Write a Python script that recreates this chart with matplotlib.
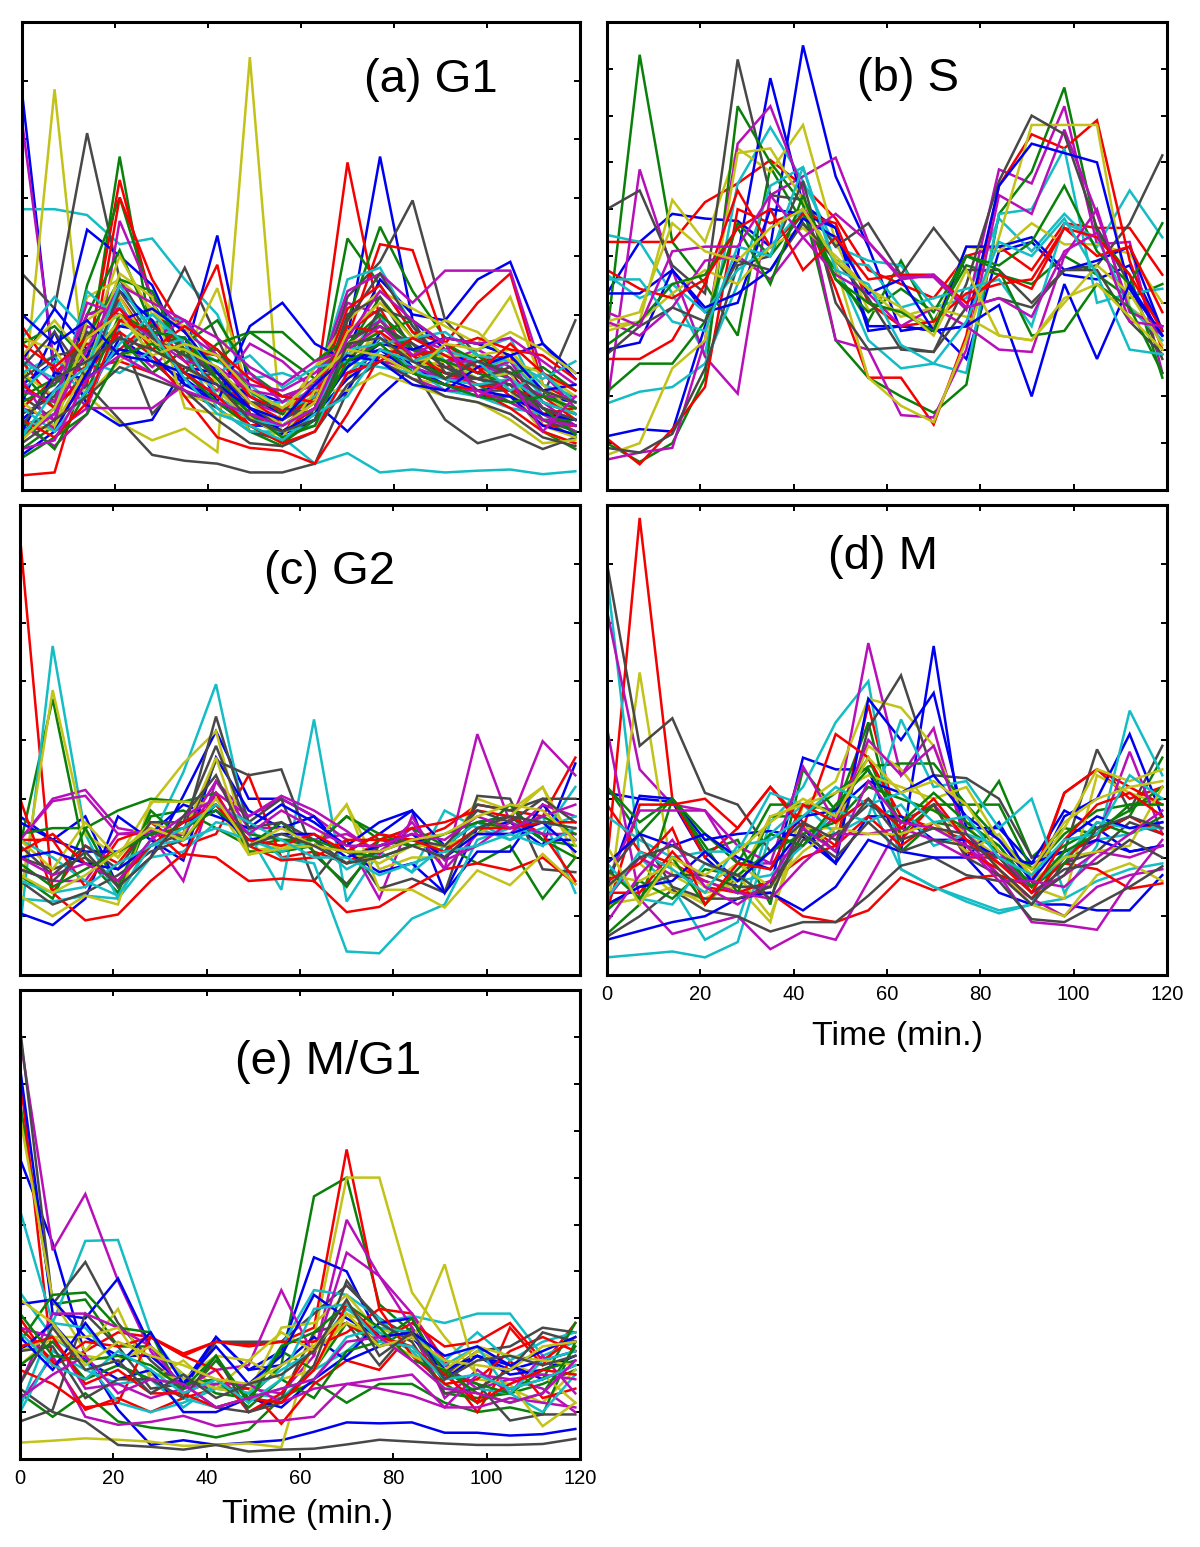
import matplotlib
matplotlib.use('Agg')
import matplotlib.pyplot as plt

plt.rcParams['font.family'] = ['Liberation Sans', 'DejaVu Sans']

W = 1200
H = 1547

# sampling times in minutes
time = [0, 7, 14, 21, 28, 35, 42, 49, 56, 63, 70, 77, 84, 91, 98, 105, 112, 119]

# old matlab line colours, cycled in this order
colors = ['#0000f0', '#0a800a', '#f50000', '#14bcc4', '#b810b8', '#c2c218', '#484848']

g1_lines = [
    [6.8,1.9,1.6,2.6,2.2,1.9,1.5,1.1,1.1,1.5,2.6,5.7,2.9,2.4,2.1,2.3,1.6,1.5],
    [1.1,1.3,2.1,5.7,2.6,2.3,2.1,1.0,0.75,1.4,4.3,3.5,2.7,2.2,1.9,1.7,1.0,0.7],
    [0.25,0.3,2.2,5.3,3.2,2.3,1.8,1.1,1.2,1.6,5.6,2.9,2.4,1.9,2.3,2.0,1.4,1.1],
    [4.8,4.8,4.7,4.2,4.3,3.6,3.0,1.7,0.9,0.45,0.63,0.3,0.35,0.3,0.33,0.35,0.27,0.32],
    [6.3,2.1,1.4,2.9,2.5,2.4,2.0,1.6,1.3,1.8,3.2,3.0,2.5,2.2,2.4,2.1,1.5,1.1],
    [1.3,6.85,1.6,1.15,0.85,1.05,0.65,7.4,0.75,1.6,2.2,2.3,1.9,1.8,2.1,2.2,1.7,1.2],
    [3.7,3.1,6.1,3.6,2.7,3.8,2.6,1.4,1.2,1.6,3.3,3.9,4.95,2.9,2.3,1.9,1.6,2.9],
    [1.8,2.2,4.45,4.0,3.5,2.3,4.35,1.7,1.5,1.9,2.4,3.6,3.0,2.9,3.6,3.9,2.5,1.9],
    [0.7,1.1,3.5,5.0,3.2,2.4,1.9,1.2,1.0,1.4,2.9,4.5,3.4,2.6,2.5,2.3,1.7,1.3],
    [2.2,1.5,1.8,5.0,3.6,2.7,3.85,1.3,0.9,1.9,2.6,4.2,4.1,2.5,3.2,3.7,1.8,1.5],
    [2.0,2.3,1.5,2.8,3.0,2.9,2.0,1.5,1.5,1.7,3.6,3.8,2.8,2.2,2.0,2.3,1.8,1.6],
    [1.1,0.75,1.3,4.6,3.3,2.7,2.3,1.5,1.3,1.8,3.4,3.7,3.2,3.75,3.75,3.75,2.0,1.4],
    [1.7,1.5,3.3,3.6,3.1,2.3,3.45,1.6,1.3,2.1,2.9,3.4,3.1,2.8,2.5,3.3,1.8,1.3],
    [1.6,1.2,1.8,1.2,0.6,0.5,0.45,0.3,0.3,0.45,1.7,2.6,2.1,1.2,0.8,0.95,0.7,0.9],
    [1.5,2.7,1.45,1.1,1.2,2.1,2.0,1.6,1.3,1.5,1.0,1.6,2.1,1.9,1.7,1.8,1.4,1.2],
    [2.0,1.4,3.0,4.1,2.8,2.5,2.9,2.0,1.6,1.8,2.4,3.3,2.6,2.3,2.1,1.9,1.2,0.9],
    [1.0,1.1,1.9,3.3,2.5,2.6,2.0,1.3,1.0,1.4,2.7,3.1,2.2,2.1,2.2,2.3,1.1,1.1],
    [2.6,3.3,2.7,2.3,2.9,2.5,2.2,1.9,2.0,1.8,2.1,2.6,2.3,2.0,1.9,2.2,1.6,1.4],
    [1.4,1.2,2.8,2.6,2.1,2.6,1.9,2.0,1.5,1.9,2.3,2.5,2.6,2.4,2.0,2.2,1.4,1.2],
    [2.0,1.6,2.4,4.0,3.0,2.8,1.8,1.0,0.95,1.3,1.9,2.9,2.4,2.0,2.1,1.7,1.0,0.8],
    [1.0,1.4,3.0,3.2,2.2,1.7,1.4,1.0,0.85,1.2,2.9,3.7,2.8,2.1,1.8,1.8,1.2,1.0],
    [2.2,3.1,2.4,2.8,2.7,2.6,1.5,1.25,1.0,1.3,1.9,2.3,2.2,2.0,1.9,2.0,1.3,1.1],
    [1.6,1.9,2.6,3.6,3.4,2.3,2.4,1.7,1.3,1.6,2.2,2.9,2.3,1.9,2.3,1.9,1.3,1.0],
    [2.8,2.0,2.5,2.4,2.9,2.2,1.7,1.5,1.2,1.6,3.1,3.5,2.7,2.5,2.1,1.6,1.3,1.4],
    [1.7,2.2,2.0,3.2,2.2,2.0,1.6,1.8,1.35,1.6,2.3,3.0,2.0,1.8,2.4,2.6,1.5,1.3],
    [2.3,1.8,3.0,3.1,2.6,2.9,2.3,1.8,1.7,2.0,2.5,2.9,2.4,2.2,2.2,1.9,1.6,1.6],
    [1.2,1.0,2.9,3.3,2.4,2.1,1.7,1.2,1.0,1.2,2.3,2.6,2.1,2.2,1.9,2.0,1.1,0.9],
    [1.9,2.3,2.4,2.7,1.3,1.9,2.0,1.4,1.1,1.4,3.0,3.3,2.4,2.2,1.7,1.7,1.3,1.1],
    [1.2,1.7,2.3,3.4,2.9,1.8,1.6,1.2,0.95,1.2,1.7,2.7,2.1,1.8,1.6,1.6,1.1,0.95],
    [2.5,2.8,2.2,2.9,2.6,2.0,2.5,2.7,2.3,1.9,2.5,3.0,2.5,1.9,1.8,1.5,1.2,1.2],
    [1.4,1.9,2.1,2.2,2.0,2.4,2.3,1.6,1.35,1.7,2.2,2.4,2.3,2.0,1.8,1.7,1.6,1.2],
    [1.0,1.3,3.4,2.9,2.6,2.3,1.4,1.0,1.0,1.1,2.0,2.4,2.1,1.7,1.6,1.4,1.3,1.0],
    [1.9,1.0,1.4,1.4,1.4,1.8,1.7,2.5,2.2,1.7,2.0,2.2,2.1,1.9,1.9,1.8,1.3,1.0],
    [2.6,2.4,1.6,2.2,2.6,1.6,1.5,1.4,1.2,2.1,2.5,2.7,2.2,2.3,2.3,2.4,1.7,1.5],
    [1.3,1.6,2.7,2.3,2.8,2.4,1.9,1.3,1.2,1.5,2.1,3.1,2.9,2.0,1.9,2.1,1.5,1.3],
    [1.0,2.0,1.9,2.4,2.3,1.8,1.5,2.8,3.2,2.5,2.2,2.4,2.0,1.8,1.7,1.6,1.3,1.2],
    [1.5,1.8,2.4,2.6,2.0,2.4,2.2,2.7,2.7,2.2,2.6,2.8,2.4,2.2,2.0,1.8,1.4,0.95],
    [1.8,1.4,2.0,2.7,2.3,1.6,0.9,0.72,0.67,0.45,1.3,2.3,2.0,1.8,1.7,1.4,1.0,0.8],
    [2.2,1.9,2.2,2.0,2.4,2.6,2.0,2.3,1.75,2.1,2.2,2.1,2.0,1.9,1.8,1.9,1.5,1.3],
    [1.7,1.5,3.2,3.0,2.6,2.2,2.1,1.7,1.6,1.8,2.0,2.2,1.9,1.7,1.7,1.5,1.2,1.1],
    [1.5,1.1,2.1,3.7,3.3,1.4,1.3,1.25,0.9,1.7,1.7,2.0,1.8,1.6,1.5,1.2,0.8,0.85],
    [2.1,2.7,1.9,3.4,2.6,2.3,2.0,1.5,1.4,1.3,2.6,2.8,2.5,2.1,1.9,1.8,1.4,1.2],
    [0.6,1.0,2.0,2.9,3.1,2.7,2.0,1.4,1.0,1.3,2.1,2.5,2.4,2.6,2.5,2.3,2.5,2.0],
    [1.2,0.7,1.7,3.0,2.7,2.6,1.9,1.3,0.9,1.1,2.4,2.7,2.9,2.5,2.2,2.0,2.1,1.7],
    [2.5,2.1,2.6,3.1,2.4,2.8,2.4,1.9,1.6,1.5,2.8,2.7,2.3,2.4,2.6,2.4,2.3,1.9],
    [1.4,1.0,1.7,2.5,3.0,2.5,1.6,1.2,1.1,1.4,2.4,2.5,2.6,2.7,2.3,2.2,1.9,2.2],
    [0.9,1.3,2.4,3.5,3.2,2.9,2.6,2.1,1.8,2.2,2.4,2.8,2.3,2.6,2.5,2.6,2.2,1.8],
    [2.3,2.9,2.2,2.9,2.5,2.4,2.1,1.5,1.1,1.5,2.7,3.2,2.6,2.9,2.7,2.2,2.0,1.6],
    [0.8,1.2,1.6,2.1,1.9,1.7,1.2,0.8,0.75,1.0,1.8,2.2,1.9,1.6,1.5,1.3,0.9,0.75],
    [3.0,2.5,2.9,2.3,2.2,2.0,1.8,1.4,1.2,1.8,2.3,2.2,1.8,1.7,2.1,2.3,1.7,1.8],
    [0.55,0.9,1.3,2.3,2.5,2.0,1.5,1.1,0.8,1.2,2.2,2.5,2.0,1.8,1.6,1.5,1.6,1.4],
    [1.2,0.9,1.5,2.9,2.7,2.0,1.6,1.1,0.8,1.0,2.0,2.2,2.6,2.3,2.0,2.5,2.0,1.7],
    [0.9,1.7,2.1,3.5,2.7,1.9,1.3,1.1,0.85,1.3,1.6,2.4,2.2,2.4,2.2,1.7,2.0,1.5],
    [0.7,0.85,1.9,2.3,2.0,1.7,1.5,1.3,1.1,1.4,2.6,3.4,2.9,2.5,1.6,1.9,1.0,1.6],
    [0.85,1.4,2.6,3.0,2.3,2.5,2.3,1.7,1.4,1.9,2.4,2.3,2.0,2.5,2.4,2.7,2.4,2.0],
    [1.1,1.9,2.2,2.6,2.4,2.1,1.8,1.2,1.0,1.2,2.5,2.6,2.2,1.9,2.2,2.0,1.7,1.5],
]

s_lines = [
    [4.2,5.3,5.9,5.8,5.75,5.2,9.5,6.7,5.2,3.4,3.5,2.8,5.1,5.3,4.6,4.5,4.8,3.4],
    [3.3,9.3,5.3,4.4,3.3,6.9,5.7,4.7,3.6,4.9,3.6,4.8,4.6,4.4,5.0,4.6,4.1,4.4],
    [5.3,5.3,5.3,6.15,6.55,7.05,6.5,5.8,4.7,4.4,4.1,5.0,5.2,4.7,5.7,5.6,5.6,4.6],
    [5.45,5.3,4.2,2.9,6.55,7.75,6.6,5.2,4.9,4.8,3.9,4.1,5.8,5.1,5.9,5.2,6.4,5.4],
    [1.8,6.85,4.7,2.85,2.06,6.3,6.7,7.1,5.3,4.55,4.55,3.85,6.85,6.55,8.2,5.25,5.3,2.5],
    [3.5,3.6,6.2,5.3,7.3,6.8,7.8,5.3,3.85,3.85,3.5,5.2,5.1,5.7,5.25,5.25,5.05,4.0],
    [6.0,6.4,4.8,4.2,9.2,6.3,6.2,5.2,5.7,4.6,5.6,4.7,4.7,4.0,4.7,4.8,5.7,7.15],
    [1.15,1.3,1.25,3.5,5.0,8.8,6.1,5.6,3.4,3.5,3.4,5.2,5.2,5.4,4.7,4.9,5.2,3.4],
    [1.0,0.6,1.0,2.4,8.2,7.0,6.1,3.2,2.4,2.0,1.65,2.25,5.9,6.8,8.6,5.5,4.6,2.4],
    [1.1,0.55,1.3,2.2,6.0,5.7,6.0,4.3,2.4,2.4,1.4,3.3,6.5,7.6,7.3,7.9,4.9,3.0],
    [1.85,2.1,2.2,2.7,4.4,6.5,6.9,4.8,3.2,2.6,2.7,2.5,5.9,6.0,7.3,4.0,4.2,4.3],
    [0.65,0.8,0.9,3.2,7.4,8.2,6.4,3.2,3.0,1.6,1.55,3.0,6.3,5.9,7.7,5.9,3.9,3.3],
    [0.75,1.0,2.6,3.2,7.2,7.3,6.2,4.8,2.4,1.8,1.45,3.2,5.4,7.8,7.8,7.8,3.9,3.4],
    [0.9,0.8,1.2,2.6,4.8,5.0,6.6,4.0,3.0,3.05,2.95,4.4,6.6,8.0,7.6,5.6,4.4,2.8],
    [3.0,3.15,4.7,3.8,4.0,6.0,5.9,5.6,3.5,3.5,3.4,3.5,6.5,7.4,7.2,7.0,4.3,3.3],
    [2.1,2.7,2.7,3.6,5.7,5.0,5.9,4.5,3.8,4.3,3.8,5.0,4.8,5.3,6.5,5.1,4.4,5.7],
    [2.8,2.8,3.2,4.4,6.4,5.2,5.9,5.7,4.0,3.5,3.6,4.2,4.4,4.5,5.6,5.0,5.2,3.8],
    [4.6,4.1,4.4,3.8,4.7,5.2,6.0,4.9,4.8,3.9,4.1,4.3,4.5,3.5,5.7,5.4,3.9,3.2],
    [3.6,3.3,3.9,4.9,5.0,4.5,5.4,4.6,4.2,3.5,3.9,3.5,3.0,2.95,5.0,6.0,3.8,3.5],
    [3.4,3.6,4.2,4.7,4.4,5.2,5.6,5.0,4.3,3.7,3.9,3.7,3.3,3.2,4.0,4.8,4.2,3.1],
    [2.9,3.5,3.9,3.6,4.9,4.7,5.7,4.9,4.1,3.0,2.95,3.9,4.1,3.9,4.7,4.7,3.6,2.9],
    [4.2,4.2,4.7,3.9,4.2,4.7,5.8,5.4,4.2,4.5,3.4,3.5,3.95,2.0,4.4,2.8,4.4,3.3],
    [3.1,3.6,4.4,4.6,5.6,4.4,6.3,4.5,4.0,3.8,3.4,5.0,4.7,3.3,3.4,4.4,3.9,2.5],
    [4.7,4.3,4.1,4.5,5.6,6.0,4.7,5.4,4.5,4.6,4.6,4.0,4.6,4.3,5.6,5.4,4.6,3.4],
    [4.5,4.5,3.6,3.4,5.2,5.0,6.9,4.7,4.4,3.1,2.7,3.6,5.3,5.0,5.8,4.6,3.0,2.9],
    [3.8,3.5,5.1,5.2,5.2,6.3,5.4,5.9,5.3,4.5,4.6,3.9,4.1,3.7,5.1,5.5,3.6,3.5],
    [3.6,3.8,5.7,5.1,4.9,5.6,6.0,4.9,4.3,3.9,3.3,4.7,3.3,3.2,4.1,4.4,3.7,3.0],
]

g2_lines = [
    [2.7,2.3,2.7,1.5,2.0,3.05,4.15,3.0,3.0,2.7,2.1,2.4,2.8,1.4,2.5,2.6,2.2,3.6],
    [2.2,4.7,2.0,1.4,2.7,2.8,2.5,2.2,2.3,2.2,2.7,2.3,2.2,2.2,1.9,2.2,1.3,2.0],
    [7.46,1.4,2.2,1.9,2.6,2.2,2.4,3.4,2.0,2.1,1.9,2.3,2.3,2.5,2.9,2.8,2.7,3.7],
    [0.8,5.6,2.4,1.3,2.3,3.45,4.95,2.4,1.45,4.35,1.25,2.1,1.75,2.8,2.5,2.3,2.7,1.4],
    [2.3,3.0,3.15,2.5,2.4,1.6,3.3,2.7,3.0,2.7,2.3,1.3,2.7,1.8,4.1,2.6,3.98,3.4],
    [1.3,4.85,2.4,2.0,2.9,3.6,4.15,2.1,2.2,2.2,2.9,1.8,2.0,2.0,3.0,2.8,3.2,2.0],
    [2.0,1.8,2.0,1.6,2.2,2.4,4.4,2.6,3.0,1.6,2.3,1.47,1.64,1.4,3.05,3.0,1.8,1.75],
    [1.05,0.85,1.3,2.7,2.3,1.95,3.7,2.8,2.5,2.7,2.1,1.75,1.9,1.4,2.1,2.1,2.9,2.3],
    [1.7,1.3,2.5,2.8,3.0,2.95,3.1,2.1,2.1,2.2,2.7,2.4,2.2,2.2,2.4,2.9,2.3,2.2],
    [3.0,1.4,0.93,1.03,1.6,2.06,2.0,1.6,1.64,1.6,1.07,1.16,1.5,1.8,1.9,1.78,2.0,1.55],
    [1.3,1.25,1.35,1.3,2.0,2.1,2.6,2.5,2.0,1.9,0.4,0.37,0.96,1.2,2.3,2.5,2.4,3.2],
    [1.8,1.6,1.6,2.4,2.4,2.4,3.3,2.5,2.5,2.3,2.4,2.1,2.5,1.8,2.4,2.4,2.9,2.7],
    [1.35,1.0,1.35,1.2,2.95,2.95,2.9,2.05,2.2,2.2,2.9,1.45,1.45,1.15,1.78,1.53,2.06,1.55],
    [1.6,1.2,1.4,1.7,2.1,2.3,3.65,3.4,3.5,2.05,1.55,2.2,2.3,2.1,2.9,2.8,3.0,3.0],
    [2.6,2.3,2.1,2.1,2.4,2.9,2.7,2.5,2.9,2.6,2.2,2.6,2.8,2.2,2.6,2.7,2.3,2.3],
    [2.4,2.5,2.5,1.5,2.8,2.3,2.9,2.2,2.6,2.1,1.5,2.3,2.5,2.2,2.6,2.7,2.3,2.0],
    [2.3,2.3,1.5,2.3,2.5,2.0,3.1,2.2,1.95,2.0,2.3,2.3,2.5,2.6,2.8,2.7,2.4,1.6],
    [2.3,2.0,1.6,1.35,2.2,2.3,2.5,2.3,2.1,2.3,1.8,2.1,1.75,2.2,2.6,2.3,2.5,2.7],
    [2.3,2.96,3.05,2.4,2.45,2.4,3.1,2.7,3.05,2.8,2.45,2.05,2.6,1.95,2.2,2.6,2.4,2.4],
    [2.3,1.8,2.6,2.0,2.6,2.4,3.7,2.05,2.15,2.2,2.1,1.9,2.2,2.2,2.4,2.7,3.2,2.2],
    [2.2,1.7,2.2,1.8,2.6,2.6,3.9,2.5,2.6,2.3,1.9,2.1,2.3,2.2,2.8,2.6,3.0,2.6],
    [2.0,2.1,1.9,1.8,2.2,2.6,2.8,2.3,2.4,2.4,2.0,2.2,2.4,2.0,2.4,2.4,2.6,2.1],
    [1.9,1.5,1.8,2.1,2.4,2.5,2.8,2.4,2.3,2.3,2.1,2.0,2.2,2.4,2.6,2.5,2.7,2.4],
    [2.1,2.4,1.9,1.6,2.2,2.6,2.9,2.3,2.2,2.4,2.1,2.4,2.3,2.1,2.5,2.5,2.6,2.6],
    [1.6,1.4,1.5,1.9,2.2,2.5,2.9,2.6,2.3,2.0,2.0,1.7,1.9,2.1,2.2,2.4,2.2,2.5],
    [2.0,1.7,1.9,1.6,2.3,2.7,3.0,2.4,2.8,2.5,2.2,2.2,2.4,2.3,2.7,2.5,2.7,2.9],
    [1.7,1.4,1.7,2.1,2.5,2.3,3.0,2.2,2.5,2.2,2.1,2.1,2.3,2.4,2.7,2.9,2.8,2.3],
    [1.8,1.6,2.1,1.5,2.0,2.7,3.4,2.2,2.4,2.2,1.9,2.0,2.2,2.0,2.5,2.7,2.6,2.5],
]

m_lines = [
    [3.1,3.0,2.95,2.0,1.5,1.5,3.7,3.5,3.5,2.1,5.6,2.0,1.4,1.2,1.2,1.1,1.1,1.7],
    [3.2,2.4,3.0,2.1,2.3,1.2,3.5,2.8,4.3,2.1,2.6,2.5,3.3,2.0,2.5,2.4,2.7,3.7],
    [1.9,7.78,3.0,2.0,2.5,3.2,2.6,2.2,4.6,2.3,2.9,2.0,2.0,1.5,3.1,3.5,3.0,3.2],
    [6.8,2.0,1.5,0.6,0.9,2.6,3.2,4.3,5.0,1.8,1.5,1.3,1.1,1.2,1.3,1.6,1.8,1.9],
    [6.2,3.5,2.9,2.8,1.9,1.9,2.2,2.7,5.65,3.4,4.2,2.2,1.7,1.3,1.0,1.5,1.7,1.8],
    [1.0,5.15,1.7,1.4,1.5,0.9,2.9,3.3,4.7,4.55,3.9,2.6,1.8,1.2,1.0,1.7,1.9,1.6],
    [7.0,3.9,4.37,3.1,2.9,2.1,2.6,2.1,4.2,5.1,3.4,3.35,3.0,2.0,2.1,3.84,2.8,3.9],
    [1.5,3.05,3.0,2.3,2.4,2.45,2.35,1.9,4.7,4.0,4.8,2.5,2.5,1.9,2.8,2.5,2.1,2.2],
    [0.7,1.2,3.0,2.2,1.4,2.7,2.7,3.1,3.55,3.6,3.6,2.9,2.3,1.8,2.4,2.8,2.9,3.0],
    [2.9,2.1,1.9,1.6,1.4,1.4,1.0,0.9,1.1,1.66,1.44,1.65,1.7,1.5,1.9,1.8,1.47,1.56],
    [0.3,0.35,0.4,0.3,0.56,2.4,2.9,2.6,3.0,1.8,1.5,1.25,1.05,1.2,2.1,2.3,2.4,2.6],
    [4.2,1.3,0.7,0.85,1.0,0.44,0.74,0.6,1.6,2.6,2.9,2.3,1.7,0.9,0.85,0.77,1.6,2.3],
    [1.2,1.3,1.5,1.2,1.7,1.0,2.5,2.5,3.9,3.5,2.8,2.4,2.0,1.5,1.3,3.4,3.1,2.9],
    [0.65,1.0,1.45,1.1,1.0,0.74,0.9,0.9,1.35,1.86,2.0,1.7,1.6,0.95,0.9,1.2,1.5,1.85],
    [0.6,0.75,0.9,1.0,1.3,1.4,1.1,1.5,2.3,2.1,2.0,2.0,2.6,1.6,2.7,3.0,4.1,2.7],
    [3.2,2.6,3.0,2.4,1.9,2.9,2.9,2.8,3.7,2.4,2.9,2.9,2.9,1.8,2.2,2.5,2.8,3.2],
    [1.1,2.9,2.9,3.0,2.5,3.2,2.5,4.1,3.7,2.7,2.5,2.3,1.9,1.6,3.1,3.5,3.2,2.9],
    [2.7,2.3,2.0,2.1,2.1,3.1,2.9,2.4,2.7,4.35,3.2,3.3,2.5,3.0,1.4,2.2,4.5,3.4],
    [1.6,2.8,2.8,2.8,2.2,1.9,3.55,2.6,4.0,3.4,3.9,2.4,1.9,1.5,1.9,2.3,3.8,2.4],
    [1.5,1.9,1.4,1.3,1.6,2.7,2.9,3.1,3.4,3.2,3.0,3.2,2.3,1.7,2.5,3.5,3.3,3.5],
    [1.7,2.4,1.5,1.3,1.3,1.5,2.3,2.4,2.9,2.6,2.9,2.0,1.7,1.2,1.9,2.1,2.6,2.4],
    [1.9,2.4,2.2,2.4,2.0,1.8,2.5,1.9,2.7,2.7,2.3,2.3,2.0,1.9,2.1,2.3,2.1,2.2],
    [1.1,1.6,1.3,1.8,1.7,2.1,2.4,2.6,3.2,3.0,2.8,2.5,2.1,1.5,1.9,2.6,2.4,2.7],
    [1.4,1.4,2.1,1.5,1.4,1.6,2.0,2.2,2.7,2.2,2.6,2.1,1.8,1.3,2.0,2.4,2.7,2.4],
    [1.9,1.3,1.2,1.9,1.6,1.7,2.2,2.8,2.6,2.9,2.2,2.4,2.2,1.5,2.0,2.6,2.5,2.5],
    [1.3,2.0,1.7,1.6,1.4,1.3,1.9,2.4,2.4,2.5,2.3,2.0,2.1,1.4,1.7,2.1,2.0,2.2],
    [1.7,1.6,1.9,1.5,1.9,1.5,2.1,2.5,2.4,2.4,2.6,2.1,2.4,1.6,2.0,2.1,2.2,3.2],
    [1.2,1.5,1.7,1.7,1.5,1.5,2.4,2.0,2.6,2.1,2.3,2.2,2.0,1.4,1.8,1.9,2.3,2.0],
    [1.2,1.5,1.6,2.1,1.6,2.1,2.7,2.8,3.3,3.1,3.4,2.7,2.3,1.6,2.3,2.7,2.5,2.6],
    [1.8,1.3,2.0,1.2,1.8,2.4,2.2,2.9,3.5,2.6,3.1,2.6,2.2,1.5,2.1,2.4,2.9,2.9],
    [1.6,1.9,2.5,1.2,1.9,1.8,2.9,2.6,3.0,2.5,3.0,2.3,1.9,1.4,2.3,2.9,3.1,2.7],
    [1.3,2.1,1.8,1.4,2.2,2.3,2.7,3.2,2.9,3.1,2.6,2.7,2.0,1.7,2.3,2.4,3.4,3.0],
    [0.9,1.7,2.3,1.5,1.2,1.6,2.5,2.1,3.3,2.6,2.5,2.2,1.6,1.6,1.5,2.0,2.4,2.8],
    [2.2,1.2,2.0,1.7,2.1,2.6,3.0,2.7,3.7,3.1,3.3,2.9,2.1,1.8,2.6,3.0,3.2,3.3],
    [1.5,2.0,2.2,1.9,1.7,1.3,2.6,2.3,3.0,2.3,2.5,2.4,1.8,1.3,1.7,2.5,2.7,2.5],
]

mg1_lines = [
    [6.4,4.6,2.2,1.05,0.3,0.4,0.3,0.35,0.4,0.58,0.78,0.76,0.78,0.56,0.56,0.5,0.53,0.64],
    [7.6,3.3,3.4,2.4,2.4,1.8,1.4,1.3,2.0,5.6,6.0,3.3,2.7,1.4,1.3,1.4,1.6,1.9],
    [8.2,2.0,2.3,2.7,2.6,2.25,2.5,2.45,2.5,2.8,6.6,3.2,3.1,2.1,1.2,2.8,2.0,2.9],
    [5.3,2.9,4.65,4.67,2.66,1.7,1.6,1.4,1.3,1.9,2.3,2.9,3.05,2.9,3.1,3.1,2.2,2.5],
    [9.0,4.45,5.65,3.8,2.3,1.4,1.7,1.5,1.4,2.2,5.1,3.9,3.1,2.0,1.5,1.7,1.5,1.0],
    [0.35,0.39,0.44,0.41,0.37,0.28,0.3,0.33,0.25,2.6,6.0,6.0,3.55,2.6,1.8,1.5,1.2,1.9],
    [9.2,3.3,4.2,2.9,2.1,1.5,2.5,2.5,2.5,3.1,3.7,3.0,2.6,1.8,2.3,2.4,2.8,2.7],
    [8.35,3.1,3.0,3.85,2.4,1.5,2.6,1.9,2.3,4.3,4.0,2.6,2.7,1.9,2.2,1.9,2.1,2.3],
    [1.4,0.9,1.4,0.8,0.67,0.6,0.46,0.62,1.3,1.65,1.2,1.6,1.6,1.2,1.0,1.1,0.95,2.5],
    [2.8,2.1,1.05,1.3,1.0,1.3,1.5,1.5,0.75,1.6,2.1,1.9,2.7,1.9,1.0,2.1,1.3,1.5],
    [3.55,2.6,2.1,1.2,1.0,1.2,1.5,1.4,2.4,3.6,3.5,3.0,2.3,2.1,2.7,2.1,2.5,2.7],
    [1.2,2.2,0.9,0.73,0.79,0.92,0.7,0.79,0.82,0.9,1.6,1.5,1.35,1.1,1.1,1.3,1.2,1.1],
    [7.3,3.4,2.3,3.2,1.7,2.1,1.5,1.4,2.8,2.9,3.5,2.7,2.3,1.7,2.3,2.0,1.8,1.2],
    [0.8,1.05,3.1,2.4,1.5,1.6,1.1,1.0,1.3,2.7,2.9,2.0,2.8,1.9,1.6,0.82,0.95,0.95],
    [3.3,3.4,2.6,2.2,2.2,1.6,2.6,1.9,2.0,2.6,2.1,2.4,2.6,1.9,2.2,1.8,1.9,2.2],
    [2.5,3.5,3.55,2.8,2.7,1.3,2.1,1.3,2.3,1.9,2.9,2.4,2.8,1.6,1.2,1.5,1.7,2.9],
    [3.0,2.0,2.5,2.4,2.6,2.2,2.5,2.4,2.5,2.5,2.9,2.5,2.9,2.4,2.5,2.9,2.1,2.6],
    [1.1,2.9,2.8,2.0,1.7,1.1,1.6,1.4,1.9,2.3,3.2,2.7,2.3,1.5,1.5,1.4,1.0,1.8],
    [1.6,3.1,3.1,2.8,2.4,1.5,1.9,2.0,3.6,2.2,4.4,3.9,2.8,1.3,1.9,1.4,2.2,1.4],
    [2.0,2.6,2.6,2.8,1.8,1.7,2.2,2.1,1.7,1.9,3.1,2.8,2.5,4.15,1.7,1.6,0.7,1.2],
    [1.5,1.0,0.8,0.3,0.26,0.2,0.3,0.16,0.2,0.22,0.31,0.41,0.37,0.33,0.3,0.3,0.32,0.43],
    [2.3,2.9,2.1,1.7,1.9,1.0,1.0,1.3,1.1,1.7,2.2,2.9,3.0,1.7,2.2,2.0,1.7,2.0],
    [2.0,2.5,1.7,2.0,1.7,1.6,1.7,1.1,1.7,1.3,2.3,2.5,3.0,1.8,1.6,1.4,1.9,2.1],
    [1.9,1.6,1.1,1.2,2.6,2.2,1.9,1.0,1.4,2.4,2.7,3.2,2.2,1.6,1.7,2.3,2.6,2.3],
    [1.0,2.3,1.9,1.6,1.7,1.3,1.1,1.3,1.5,1.7,2.6,2.8,2.7,2.0,2.4,1.4,2.1,2.3],
    [2.8,2.6,1.5,1.6,1.3,1.5,1.6,1.6,1.2,1.5,1.6,1.7,1.8,1.1,1.8,1.7,1.8,1.7],
    [2.3,2.6,2.2,2.1,2.4,1.8,1.5,2.1,2.7,2.3,2.9,2.6,2.2,1.9,2.4,2.2,2.1,2.0],
    [2.3,2.4,1.3,1.7,1.7,1.3,2.2,1.0,1.2,2.0,3.8,2.9,2.5,1.4,1.5,1.9,2.7,2.5],
    [2.6,1.9,2.9,2.0,2.7,1.6,2.4,1.6,2.2,3.5,3.0,2.6,2.7,2.2,2.4,2.0,2.3,2.6],
    [3.1,2.2,2.1,2.2,2.0,1.5,2.2,1.2,2.4,2.7,3.3,2.8,2.1,1.9,1.4,1.2,1.4,2.4],
    [2.4,2.6,1.6,1.9,1.4,1.4,1.1,1.3,1.2,1.9,3.3,2.6,2.4,1.8,1.2,1.6,1.9,1.8],
    [2.7,2.0,1.7,2.3,1.9,1.4,1.7,1.2,1.7,3.2,3.3,2.5,2.4,1.7,1.8,1.5,1.7,2.0],
    [1.3,1.8,2.2,1.4,1.7,1.6,1.1,1.3,1.5,1.7,2.5,2.6,2.1,1.5,1.4,1.2,1.4,2.1],
    [3.4,2.9,2.0,2.5,2.2,2.0,1.7,1.6,2.0,2.4,3.1,2.4,2.6,2.1,2.0,1.9,2.4,2.5],
    [1.6,2.8,1.9,2.1,1.4,1.8,1.3,1.6,1.8,2.3,3.4,2.2,2.7,1.7,2.1,2.2,2.0,2.2],
]


def make_panel(rect, lines, ymax, title, title_pos, show_x=False):
    left, top, right, bottom = rect
    ax = fig.add_axes([left / W, 1 - bottom / H, (right - left) / W, (bottom - top) / H])
    for i, vals in enumerate(lines):
        ax.plot(time, vals, color=colors[i % 7], lw=1.8, solid_joinstyle='miter')
    ax.set_xlim(0, 120)
    ax.set_ylim(0, ymax)
    ax.set_xticks(range(0, 121, 20))
    ax.set_yticks(range(1, ymax))
    ax.tick_params(direction='in', length=4.5, width=1.4, top=True, right=True,
                   labelleft=False, labelbottom=show_x, labelsize=14.5, pad=7)
    for s in ax.spines.values():
        s.set_linewidth(2.2)
    fig.text(title_pos[0] / W, 1 - title_pos[1] / H, title, fontsize=34, ha='center', va='center')
    return ax


fig = plt.figure(figsize=(W / 100, H / 100), dpi=100)

make_panel((22, 22, 580, 490), g1_lines, 8, '(a) G1', (431, 80))
make_panel((607, 22, 1167, 490), s_lines, 10, '(b) S', (908, 79))
make_panel((20, 505, 580, 975), g2_lines, 8, '(c) G2', (330, 572))
make_panel((607, 505, 1167, 975), m_lines, 8, '(d) M', (883, 557), show_x=True)
make_panel((20, 990, 580, 1459), mg1_lines, 10, '(e) M/G1', (328, 1062), show_x=True)

fig.text(898 / W, 1 - 1037 / H, 'Time (min.)', fontsize=24.5, ha='center', va='center')
fig.text(307 / W, 1 - 1514 / H, 'Time (min.)', fontsize=24.5, ha='center', va='center')

fig.savefig('out.png', dpi=100)
